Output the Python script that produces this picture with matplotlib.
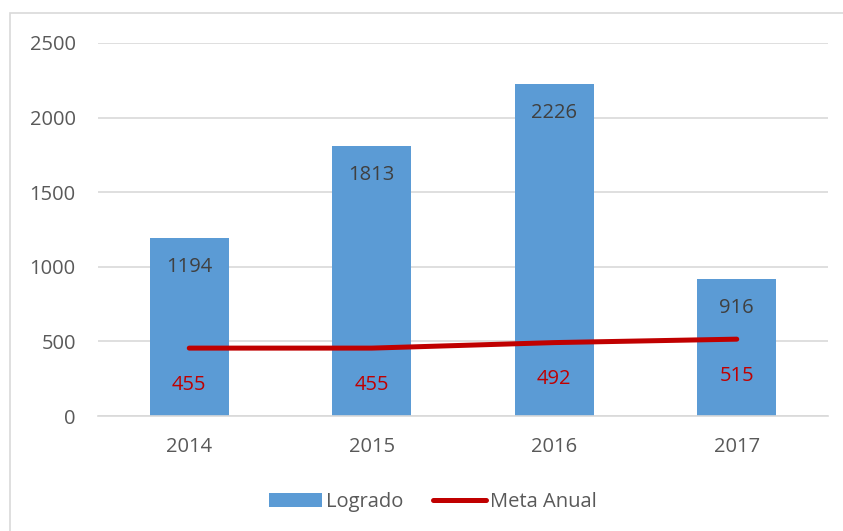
import matplotlib.pyplot as plt
from matplotlib.patches import Rectangle

# data
years = ['2014', '2015', '2016', '2017']
logrado = [1194, 1813, 2226, 916]
meta_anual = [455, 455, 492, 515]

plt.rcParams['font.family'] = ['Open Sans', 'DejaVu Sans']
FS = 14.5

fig = plt.figure(figsize=(8.43, 5.31), dpi=100)
ax = fig.add_axes([98/843, 1 - 416/531, 730/843, 373/531])

# outer chart border (only left/top visible in original)
fig.patches.append(Rectangle((10/843, -0.05), 1.1, 1.05 - 13/531, transform=fig.transFigure,
                             fill=False, edgecolor='#D9D9D9', linewidth=1.2))

x = range(len(years))
bars = ax.bar(x, logrado, width=0.433, color='#5B9BD5', label='Logrado', zorder=2)
line, = ax.plot(x, meta_anual, color='#C00000', linewidth=3.6, solid_capstyle='round',
                label='Meta Anual', zorder=3)

for i, v in enumerate(logrado):
    ax.annotate(str(v), (i, v), xytext=(0, -21), textcoords='offset points',
                ha='center', va='center', fontsize=FS, color='#404040', zorder=4)
for i, v in enumerate(meta_anual):
    ax.annotate(str(v), (i, v), xytext=(0, -26.5), textcoords='offset points',
                ha='center', va='center', fontsize=FS, color='#C00000', zorder=4)

ax.set_xlim(-0.5, 3.5)
ax.set_ylim(0, 2500)
ax.set_yticks([0, 500, 1000, 1500, 2000, 2500])
ax.set_xticks(list(x))
ax.set_xticklabels(years)
ax.grid(axis='y', color='#D9D9D9', linewidth=1.2, zorder=0)
ax.set_axisbelow(True)
for s in ['top', 'right', 'left']:
    ax.spines[s].set_visible(False)
ax.spines['bottom'].set_color('#D9D9D9')
ax.spines['bottom'].set_linewidth(1.2)
ax.tick_params(axis='both', length=0, labelsize=FS, labelcolor='#595959')
ax.tick_params(axis='x', pad=15)
ax.tick_params(axis='y', pad=16)

ax.legend([bars, line], ['Logrado', 'Meta Anual'],
          loc='center', bbox_to_anchor=(433/843, 1 - 502/531), bbox_transform=fig.transFigure,
          ncol=2, frameon=False, fontsize=FS, labelcolor='#595959',
          handlelength=2.6, handleheight=0.7, columnspacing=1.5, handletextpad=0.2)

fig.savefig('out.png', dpi=100)
